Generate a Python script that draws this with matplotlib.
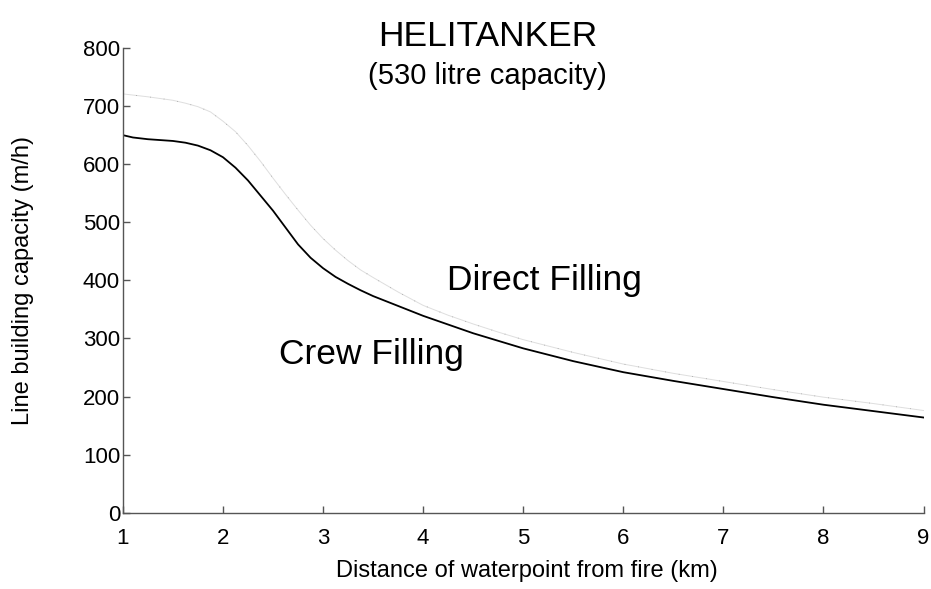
import matplotlib
matplotlib.use("Agg")
import matplotlib.pyplot as plt

plt.rcParams['font.family'] = ['Liberation Sans', 'DejaVu Sans']

crew_km = [1.0, 1.1, 1.25, 1.5, 1.625, 1.75, 1.875, 2.0, 2.125, 2.25, 2.375, 2.5,
           2.625, 2.75, 2.875, 3.0, 3.125, 3.25, 3.375, 3.5, 3.75, 4.0, 4.25, 4.5,
           4.75, 5.0, 5.5, 6.0, 6.5, 7.0, 7.5, 8.0, 8.5, 9.0]
crew_filling = [650, 646, 643, 640, 637, 632, 624, 612, 594, 572, 546, 520,
                491, 462, 439, 421, 406, 394, 383, 373, 356, 339, 324, 309,
                296, 283, 261, 242, 227, 213, 199, 186, 175, 164]

direct_km = [1.0, 1.25, 1.5, 1.625, 1.75, 1.875, 2.0, 2.125, 2.25, 2.375, 2.5,
             2.625, 2.75, 2.875, 3.0, 3.125, 3.25, 3.375, 3.5, 3.75, 4.0, 4.25,
             4.5, 4.75, 5.0, 5.5, 6.0, 6.5, 7.0, 7.5, 8.0, 8.5, 9.0]
direct_filling = [721, 716, 710, 705, 699, 690, 674, 656, 632, 605, 576,
                  548, 521, 495, 472, 452, 434, 418, 405, 380, 357, 340,
                  325, 311, 298, 276, 256, 240, 226, 212, 199, 188, 176]

x_ticks = [1, 2, 3, 4, 5, 6, 7, 8, 9]
y_ticks = [0, 100, 200, 300, 400, 500, 600, 700, 800]

fig = plt.figure(figsize=(9.31, 5.89), dpi=100)
ax = fig.add_axes([0.132, 0.1294, 0.860, 0.7891])

ax.plot(direct_km, direct_filling, color='#dedede', lw=0.7)
ax.plot(direct_km, direct_filling, color='#666666', lw=0.6,
        linestyle=(0, (0.5, 16)))
ax.plot(crew_km, crew_filling, color='black', lw=1.3)

ax.set_xlim(1, 9)
ax.set_ylim(0, 800)
ax.set_xticks(x_ticks)
ax.set_yticks(y_ticks)
ax.set_xticklabels([str(v) for v in x_ticks])
ax.set_yticklabels([str(v) for v in y_ticks])

for side in ['top', 'right']:
    ax.spines[side].set_visible(False)
for side in ['left', 'bottom']:
    ax.spines[side].set_color('#555555')
    ax.spines[side].set_linewidth(1.0)

ax.tick_params(direction='in', length=5, width=1.0, color='#555555',
               labelsize=16, labelcolor='black')
ax.tick_params(axis='x', pad=11)
ax.tick_params(axis='y', pad=2)

ax.set_xlabel('Distance of waterpoint from fire (km)', fontsize=17, va='center')
ax.xaxis.set_label_coords(0.504, -0.125)
ax.set_ylabel('Line building capacity (m/h)', fontsize=17, va='center')
ax.yaxis.set_label_coords(-0.1248, 0.5)

ax.text(4.24, 400, 'Direct Filling', fontsize=25.5, va='center', ha='left')
ax.text(2.56, 272, 'Crew Filling', fontsize=25.5, va='center', ha='left')

fig.text(0.524, 0.938, 'HELITANKER', fontsize=25.5, ha='center', va='center')
fig.text(0.524, 0.871, '(530 litre capacity)', fontsize=21, ha='center', va='center')

fig.savefig('out.png', dpi=100)
